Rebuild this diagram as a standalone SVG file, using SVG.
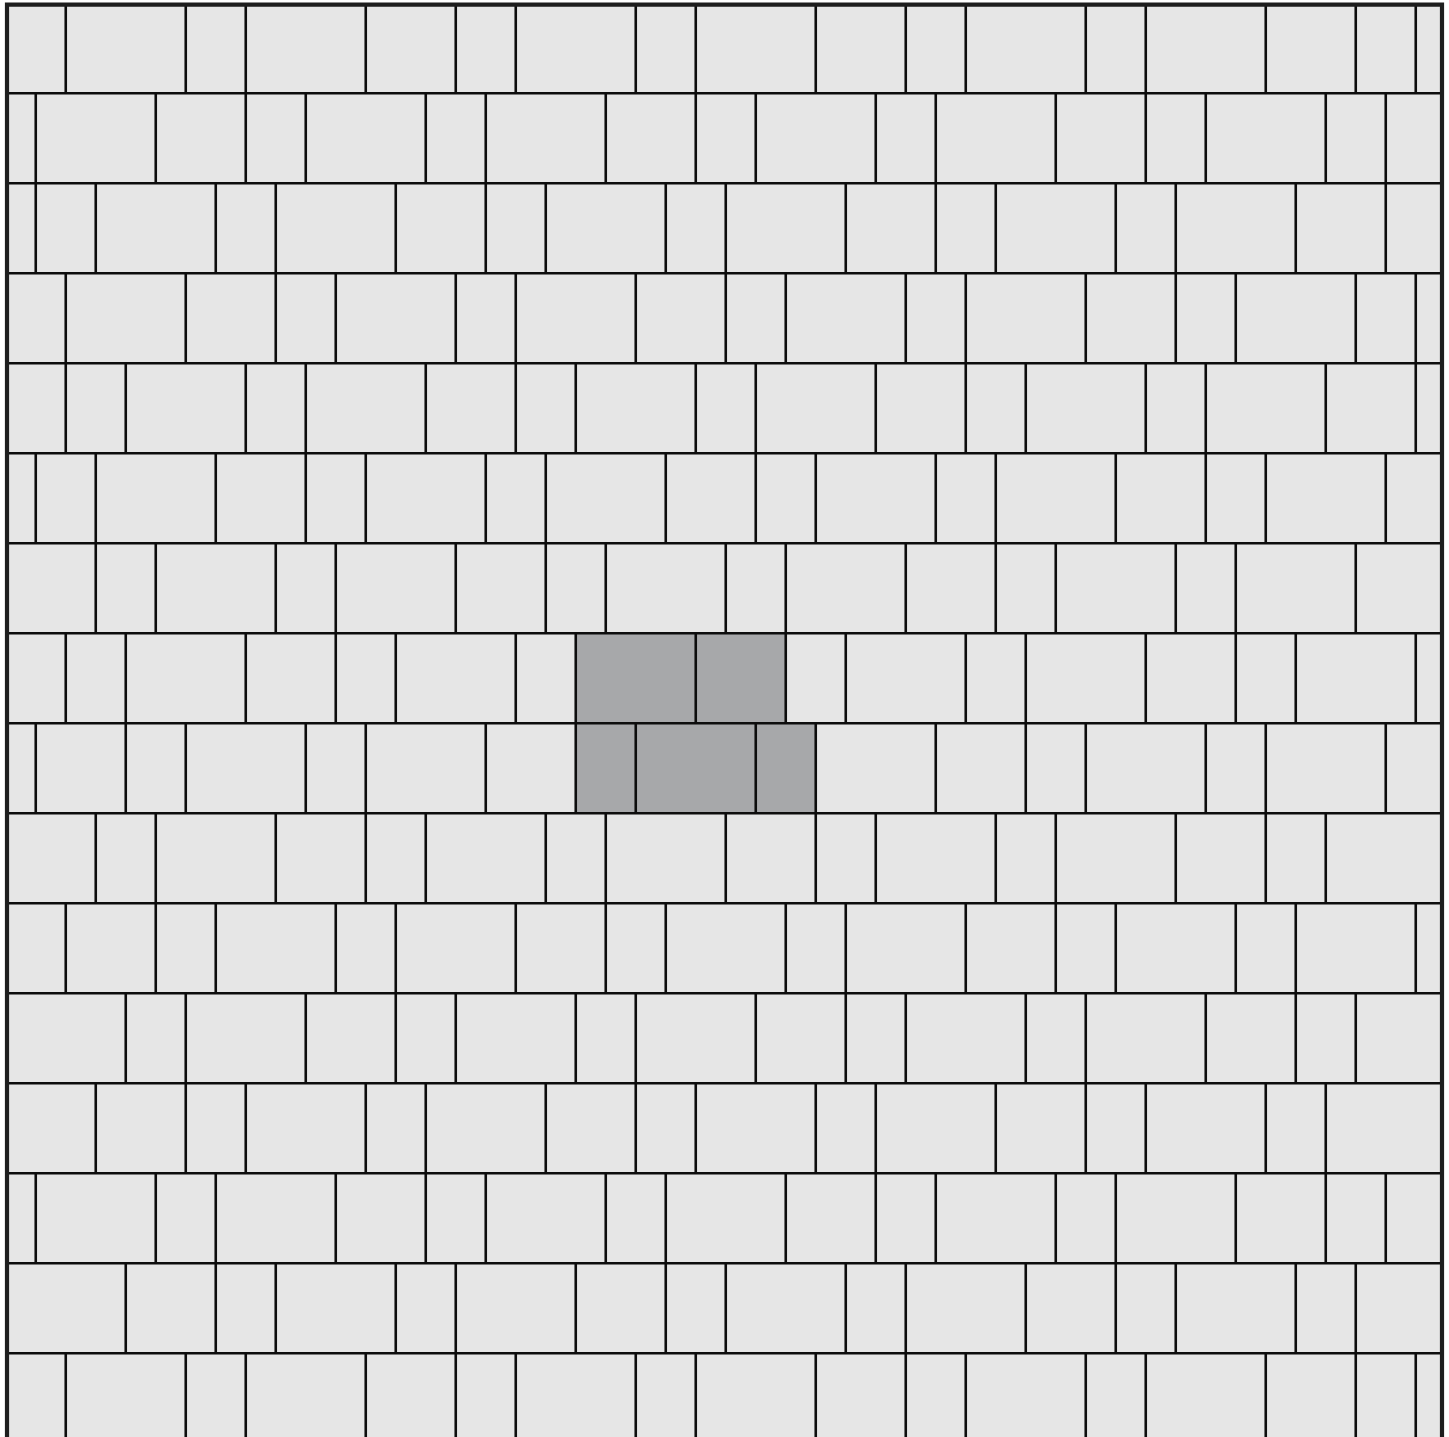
<svg xmlns="http://www.w3.org/2000/svg" width="1449" height="1437" viewBox="0 0 1449 1437">
<style>
.bg{fill:#e6e6e6}
.hl{fill:#a7a8aa}
.v,.h{fill:none;stroke:#0d0d0d;stroke-width:2.6}
.b{fill:none;stroke:#1e1e1e;stroke-width:4.2}
</style>
<rect x="0" y="0" width="1449" height="1437" fill="#ffffff"/>
<rect class="bg" x="6" y="4" width="1436" height="1433"/>
<g id="highlight">
<rect class="hl" x="575.75" y="633.3" width="210" height="90"/>
<rect class="hl" x="575.75" y="723.3" width="240" height="90"/>
</g>
<g id="joints">
<path class="h" d="M6 93.3H1442M6 183.3H1442M6 273.3H1442M6 363.3H1442M6 453.3H1442M6 543.3H1442M6 633.3H1442M6 723.3H1442M6 813.3H1442M6 903.3H1442M6 993.3H1442M6 1083.3H1442M6 1173.3H1442M6 1263.3H1442M6 1353.3H1442"/>
<path id="row1" class="v" transform="translate(5.75,3.3)" d="M60 0v90M180 0v90M240 0v90M360 0v90M450 0v90M510 0v90M630 0v90M690 0v90M810 0v90M900 0v90M960 0v90M1080 0v90M1140 0v90M1260 0v90M1350 0v90M1410 0v90"/>
<path id="row2" class="v" transform="translate(5.75,93.3)" d="M30 0v90M150 0v90M240 0v90M300 0v90M420 0v90M480 0v90M600 0v90M690 0v90M750 0v90M870 0v90M930 0v90M1050 0v90M1140 0v90M1200 0v90M1320 0v90M1380 0v90"/>
<path id="row3" class="v" transform="translate(5.75,183.3)" d="M30 0v90M90 0v90M210 0v90M270 0v90M390 0v90M480 0v90M540 0v90M660 0v90M720 0v90M840 0v90M930 0v90M990 0v90M1110 0v90M1170 0v90M1290 0v90M1380 0v90"/>
<path id="row4" class="v" transform="translate(5.75,273.3)" d="M60 0v90M180 0v90M270 0v90M330 0v90M450 0v90M510 0v90M630 0v90M720 0v90M780 0v90M900 0v90M960 0v90M1080 0v90M1170 0v90M1230 0v90M1350 0v90M1410 0v90"/>
<path id="row5" class="v" transform="translate(5.75,363.3)" d="M60 0v90M120 0v90M240 0v90M300 0v90M420 0v90M510 0v90M570 0v90M690 0v90M750 0v90M870 0v90M960 0v90M1020 0v90M1140 0v90M1200 0v90M1320 0v90M1410 0v90"/>
<path id="row6" class="v" transform="translate(5.75,453.3)" d="M30 0v90M90 0v90M210 0v90M300 0v90M360 0v90M480 0v90M540 0v90M660 0v90M750 0v90M810 0v90M930 0v90M990 0v90M1110 0v90M1200 0v90M1260 0v90M1380 0v90"/>
<path id="row7" class="v" transform="translate(5.75,543.3)" d="M90 0v90M150 0v90M270 0v90M330 0v90M450 0v90M540 0v90M600 0v90M720 0v90M780 0v90M900 0v90M990 0v90M1050 0v90M1170 0v90M1230 0v90M1350 0v90"/>
<path id="row8" class="v" transform="translate(5.75,633.3)" d="M60 0v90M120 0v90M240 0v90M330 0v90M390 0v90M510 0v90M570 0v90M690 0v90M780 0v90M840 0v90M960 0v90M1020 0v90M1140 0v90M1230 0v90M1290 0v90M1410 0v90"/>
<path id="row9" class="v" transform="translate(5.75,723.3)" d="M30 0v90M120 0v90M180 0v90M300 0v90M360 0v90M480 0v90M570 0v90M630 0v90M750 0v90M810 0v90M930 0v90M1020 0v90M1080 0v90M1200 0v90M1260 0v90M1380 0v90"/>
<path id="row10" class="v" transform="translate(5.75,813.3)" d="M90 0v90M150 0v90M270 0v90M360 0v90M420 0v90M540 0v90M600 0v90M720 0v90M810 0v90M870 0v90M990 0v90M1050 0v90M1170 0v90M1260 0v90M1320 0v90"/>
<path id="row11" class="v" transform="translate(5.75,903.3)" d="M60 0v90M150 0v90M210 0v90M330 0v90M390 0v90M510 0v90M600 0v90M660 0v90M780 0v90M840 0v90M960 0v90M1050 0v90M1110 0v90M1230 0v90M1290 0v90M1410 0v90"/>
<path id="row12" class="v" transform="translate(5.75,993.3)" d="M120 0v90M180 0v90M300 0v90M390 0v90M450 0v90M570 0v90M630 0v90M750 0v90M840 0v90M900 0v90M1020 0v90M1080 0v90M1200 0v90M1290 0v90M1350 0v90"/>
<path id="row13" class="v" transform="translate(5.75,1083.3)" d="M90 0v90M180 0v90M240 0v90M360 0v90M420 0v90M540 0v90M630 0v90M690 0v90M810 0v90M870 0v90M990 0v90M1080 0v90M1140 0v90M1260 0v90M1320 0v90"/>
<path id="row14" class="v" transform="translate(5.75,1173.3)" d="M30 0v90M150 0v90M210 0v90M330 0v90M420 0v90M480 0v90M600 0v90M660 0v90M780 0v90M870 0v90M930 0v90M1050 0v90M1110 0v90M1230 0v90M1320 0v90M1380 0v90"/>
<path id="row15" class="v" transform="translate(5.75,1263.3)" d="M120 0v90M210 0v90M270 0v90M390 0v90M450 0v90M570 0v90M660 0v90M720 0v90M840 0v90M900 0v90M1020 0v90M1110 0v90M1170 0v90M1290 0v90M1350 0v90"/>
<path id="row16" class="v" transform="translate(5.75,1353.3)" d="M60 0v90M180 0v90M240 0v90M360 0v90M450 0v90M510 0v90M630 0v90M690 0v90M810 0v90M900 0v90M960 0v90M1080 0v90M1140 0v90M1260 0v90M1350 0v90M1410 0v90"/>
</g>
<path id="border" class="b" d="M7 1440V4.7H1442V1440"/>
</svg>
